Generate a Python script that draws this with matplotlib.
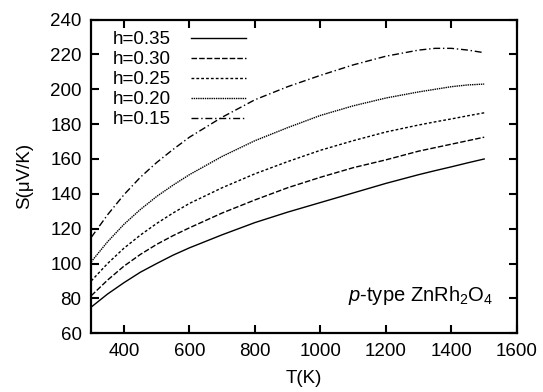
import matplotlib
matplotlib.use('Agg')
import matplotlib.pyplot as plt

plt.rcParams['font.family'] = 'Liberation Sans'
plt.rcParams['mathtext.fontset'] = 'custom'
plt.rcParams['mathtext.rm'] = 'Liberation Sans'
plt.rcParams['mathtext.it'] = 'Liberation Sans:italic'

T = [300, 350, 400, 450, 500, 550, 600, 700, 800, 900, 1000, 1100, 1200, 1300, 1350, 1400, 1450, 1500]
S_035 = [75, 82.5, 89, 95, 100, 104.8, 109, 116.5, 123.5, 129.5, 135, 140.5, 146, 151, 153.3, 155.5, 157.8, 160]
S_030 = [81.5, 90.5, 98.5, 105.2, 111, 116, 120.5, 129, 136.5, 143.5, 149.5, 155, 159.5, 164.5, 166.5, 168.5, 170.5, 172.5]
S_025 = [90, 100, 108.8, 116.3, 123, 129, 134.5, 143.5, 151.5, 158.5, 165, 170.5, 175.5, 179.5, 181.3, 183, 184.8, 186.5]
S_020 = [101, 112.5, 122.5, 131, 138.5, 145, 151, 161.5, 170.5, 178, 185, 190.5, 195, 198.5, 200, 201.5, 202.5, 203]
S_015 = [115, 128, 139.5, 149.5, 158, 165.5, 172.5, 184, 194, 201.5, 208, 214, 219, 222.5, 223.5, 223.5, 222.5, 221]

labels = ['h=0.35', 'h=0.30', 'h=0.25', 'h=0.20', 'h=0.15']
styles = ['-', (0, (4, 1.5)), (0, (2, 1.5)), (0, (1, 0.6)), (0, (5, 2, 1, 2))]

fig = plt.figure(figsize=(5.43, 3.92), dpi=100)
ax = fig.add_axes([0.168, 0.150, 0.784, 0.800])

for S, lab, ls in zip([S_035, S_030, S_025, S_020, S_015], labels, styles):
    ax.plot(T, S, color='black', linestyle=ls, linewidth=1.0, label=lab)

ax.set_xlim(300, 1600)
ax.set_ylim(60, 240)
ax.set_xticks([400, 600, 800, 1000, 1200, 1400, 1600])
ax.set_yticks(range(60, 241, 20))
ax.tick_params(direction='in', top=True, right=True, length=6, width=1.5, labelsize=13.5)
ax.tick_params(axis='y', pad=7)
ax.tick_params(axis='x', pad=7)
for sp in ax.spines.values():
    sp.set_linewidth(1.6)

ax.set_xlabel('T(K)', fontsize=13.5, labelpad=7)
ax.set_ylabel('S(\u03bcV/K)', fontsize=13.5, labelpad=12)

ax.text(0.944, 0.121, r'$p$-type ZnRh$_2$O$_4$', transform=ax.transAxes,
        ha='right', va='center', fontsize=14.5)

ax.legend(loc='upper left', bbox_to_anchor=(0.05, 0.963), frameon=False,
          markerfirst=False, handlelength=2.9, handletextpad=1.1,
          labelspacing=0.15, borderpad=0, borderaxespad=0, fontsize=13.5)

fig.savefig('out.png', dpi=100)
